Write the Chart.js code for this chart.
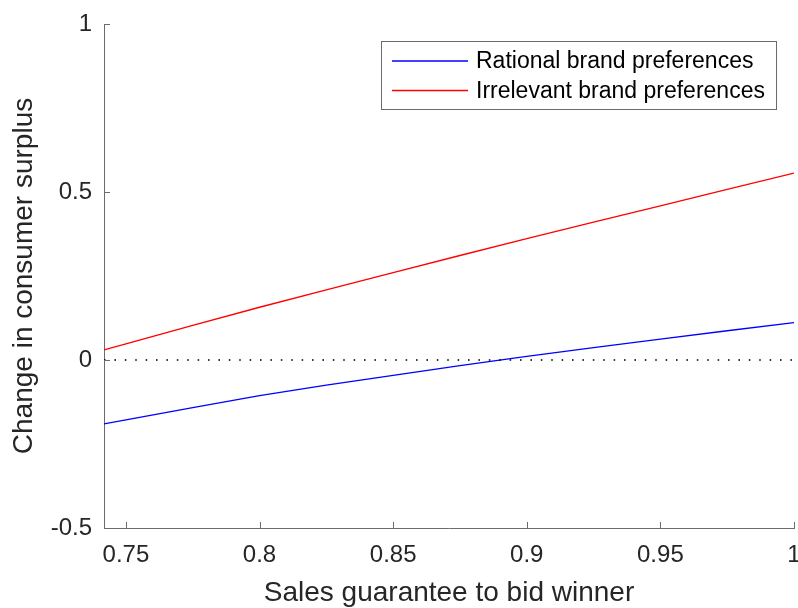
<!DOCTYPE html>
<html>
<head>
<meta charset="utf-8">
<script src="https://cdn.jsdelivr.net/npm/chart.js@4"></script>
<style>
  body { margin: 0; background: #fff; }
  #wrap { width: 798px; height: 608px; }
</style>
</head>
<body>
<div id="wrap"><canvas id="surplus-chart" width="798" height="608"></canvas></div>
<script>
  // values
  const guarantee = [0.7418, 0.75, 0.775, 0.8, 0.825, 0.85, 0.875, 0.9, 0.925, 0.95, 0.975, 1];
  const rationalPrefs = [-0.190, -0.178, -0.142, -0.106, -0.075, -0.046, -0.017, 0.011, 0.037, 0.062, 0.087, 0.111];
  const irrelevantPrefs = [0.030, 0.048, 0.103, 0.157, 0.209, 0.260, 0.311, 0.361, 0.410, 0.459, 0.508, 0.556];
  const zeroLineX = [0.7418, 1];
  const zeroLineY = [0, 0];
  const xTicks = [0.75, 0.8, 0.85, 0.9, 0.95, 1];
  const xTickLabels = ['0.75', '0.8', '0.85', '0.9', '0.95', '1'];
  const yTicks = [-0.5, 0, 0.5, 1];
  const yTickLabels = ['-0.5', '0', '0.5', '1'];
  const seriesNames = ['Rational brand preferences', 'Irrelevant brand preferences'];

  const FONT = '"Liberation Sans", Helvetica, Arial, sans-serif';
  const AXIS = '#6b6b6b';
  const TEXT = '#262626';

  function pairs(xs, ys) {
    return xs.map((x, i) => ({ x: x, y: ys[i] }));
  }

  // MATLAB style inward tick marks
  const inwardTicks = {
    id: 'inwardTicks',
    afterDatasetsDraw(chart) {
      const ctx = chart.ctx;
      const xs = chart.scales.x, ys = chart.scales.y;
      const area = chart.chartArea;
      ctx.save();
      ctx.strokeStyle = AXIS;
      ctx.lineWidth = 1;
      ctx.beginPath();
      xTicks.forEach(v => {
        const px = Math.round(xs.getPixelForValue(v)) + 0.5;
        ctx.moveTo(px, area.bottom);
        ctx.lineTo(px, area.bottom - 6);
      });
      yTicks.forEach(v => {
        const py = Math.round(ys.getPixelForValue(v)) + 0.5;
        ctx.moveTo(area.left, py);
        ctx.lineTo(area.left + 6, py);
      });
      ctx.stroke();
      ctx.restore();
    }
  };

  // boxed legend in the upper right
  const boxLegend = {
    id: 'boxLegend',
    afterDraw(chart) {
      const ctx = chart.ctx;
      const colors = ['#0000ff', '#ff0000'];
      ctx.save();
      ctx.fillStyle = '#fff';
      ctx.fillRect(381, 41, 396, 68);
      ctx.strokeStyle = AXIS;
      ctx.lineWidth = 1;
      ctx.strokeRect(381.5, 41.5, 395, 68);
      ctx.font = '23px ' + FONT;
      ctx.textBaseline = 'middle';
      seriesNames.forEach((name, i) => {
        const y = 61 + i * 29.5;
        ctx.strokeStyle = colors[i];
        ctx.lineWidth = 1.3;
        ctx.beginPath();
        ctx.moveTo(392, y);
        ctx.lineTo(468, y);
        ctx.stroke();
        ctx.fillStyle = '#000';
        ctx.fillText(name, 476, y + 1);
      });
      ctx.restore();
    }
  };

  document.addEventListener('DOMContentLoaded', function() {
    var ctx = document.getElementById('surplus-chart').getContext('2d');
    var surplusChart = new Chart(ctx, {
      type: 'line',
      data: {
        datasets: [{
          label: 'zero',
          data: pairs(zeroLineX, zeroLineY),
          borderColor: '#000',
          borderWidth: 1.6,
          borderDash: [1.6, 8.8],
          pointRadius: 0
        }, {
          label: seriesNames[0],
          data: pairs(guarantee, rationalPrefs),
          borderColor: '#0000ff',
          borderWidth: 1.3,
          pointRadius: 0,
          tension: 0
        }, {
          label: seriesNames[1],
          data: pairs(guarantee, irrelevantPrefs),
          borderColor: '#ff0000',
          borderWidth: 1.3,
          pointRadius: 0,
          tension: 0
        }]
      },
      options: {
        responsive: false,
        animation: false,
        events: [],
        layout: { padding: { top: 24, right: 4, left: 0, bottom: 0 } },
        plugins: {
          legend: { display: false },
          tooltip: { enabled: false }
        },
        scales: {
          x: {
            type: 'linear',
            min: 0.7418,
            max: 1,
            afterBuildTicks: function(scale) {
              scale.ticks = xTicks.map(v => ({ value: v }));
            },
            afterFit: function(scale) {
              scale.height = 80;
              scale.paddingLeft = 0;
              scale.paddingRight = 0;
            },
            grid: { display: false, drawTicks: false },
            border: { display: true, color: AXIS, width: 1 },
            ticks: {
              padding: 13,
              color: TEXT,
              maxRotation: 0,
              autoSkip: false,
              font: { family: FONT, size: 24 },
              callback: function(value, index) { return xTickLabels[index]; }
            },
            title: {
              display: true,
              text: 'Sales guarantee to bid winner',
              color: TEXT,
              padding: { top: 0, bottom: 1 },
              font: { family: FONT, size: 28, lineHeight: 1 }
            }
          },
          y: {
            type: 'linear',
            min: -0.5,
            max: 1,
            afterBuildTicks: function(scale) {
              scale.ticks = yTicks.map(v => ({ value: v }));
            },
            afterFit: function(scale) {
              scale.width = 104;
              scale.paddingTop = 0;
              scale.paddingBottom = 0;
            },
            grid: { display: false, drawTicks: false },
            border: { display: true, color: AXIS, width: 1 },
            ticks: {
              padding: 12,
              color: TEXT,
              autoSkip: false,
              font: { family: FONT, size: 24 },
              callback: function(value, index) { return yTickLabels[index]; }
            },
            title: {
              display: true,
              text: 'Change in consumer surplus',
              color: TEXT,
              padding: { top: 10, bottom: 0 },
              font: { family: FONT, size: 28, lineHeight: 1 }
            }
          }
        }
      },
      plugins: [inwardTicks, boxLegend]
    });
  });
</script>
</body>
</html>
